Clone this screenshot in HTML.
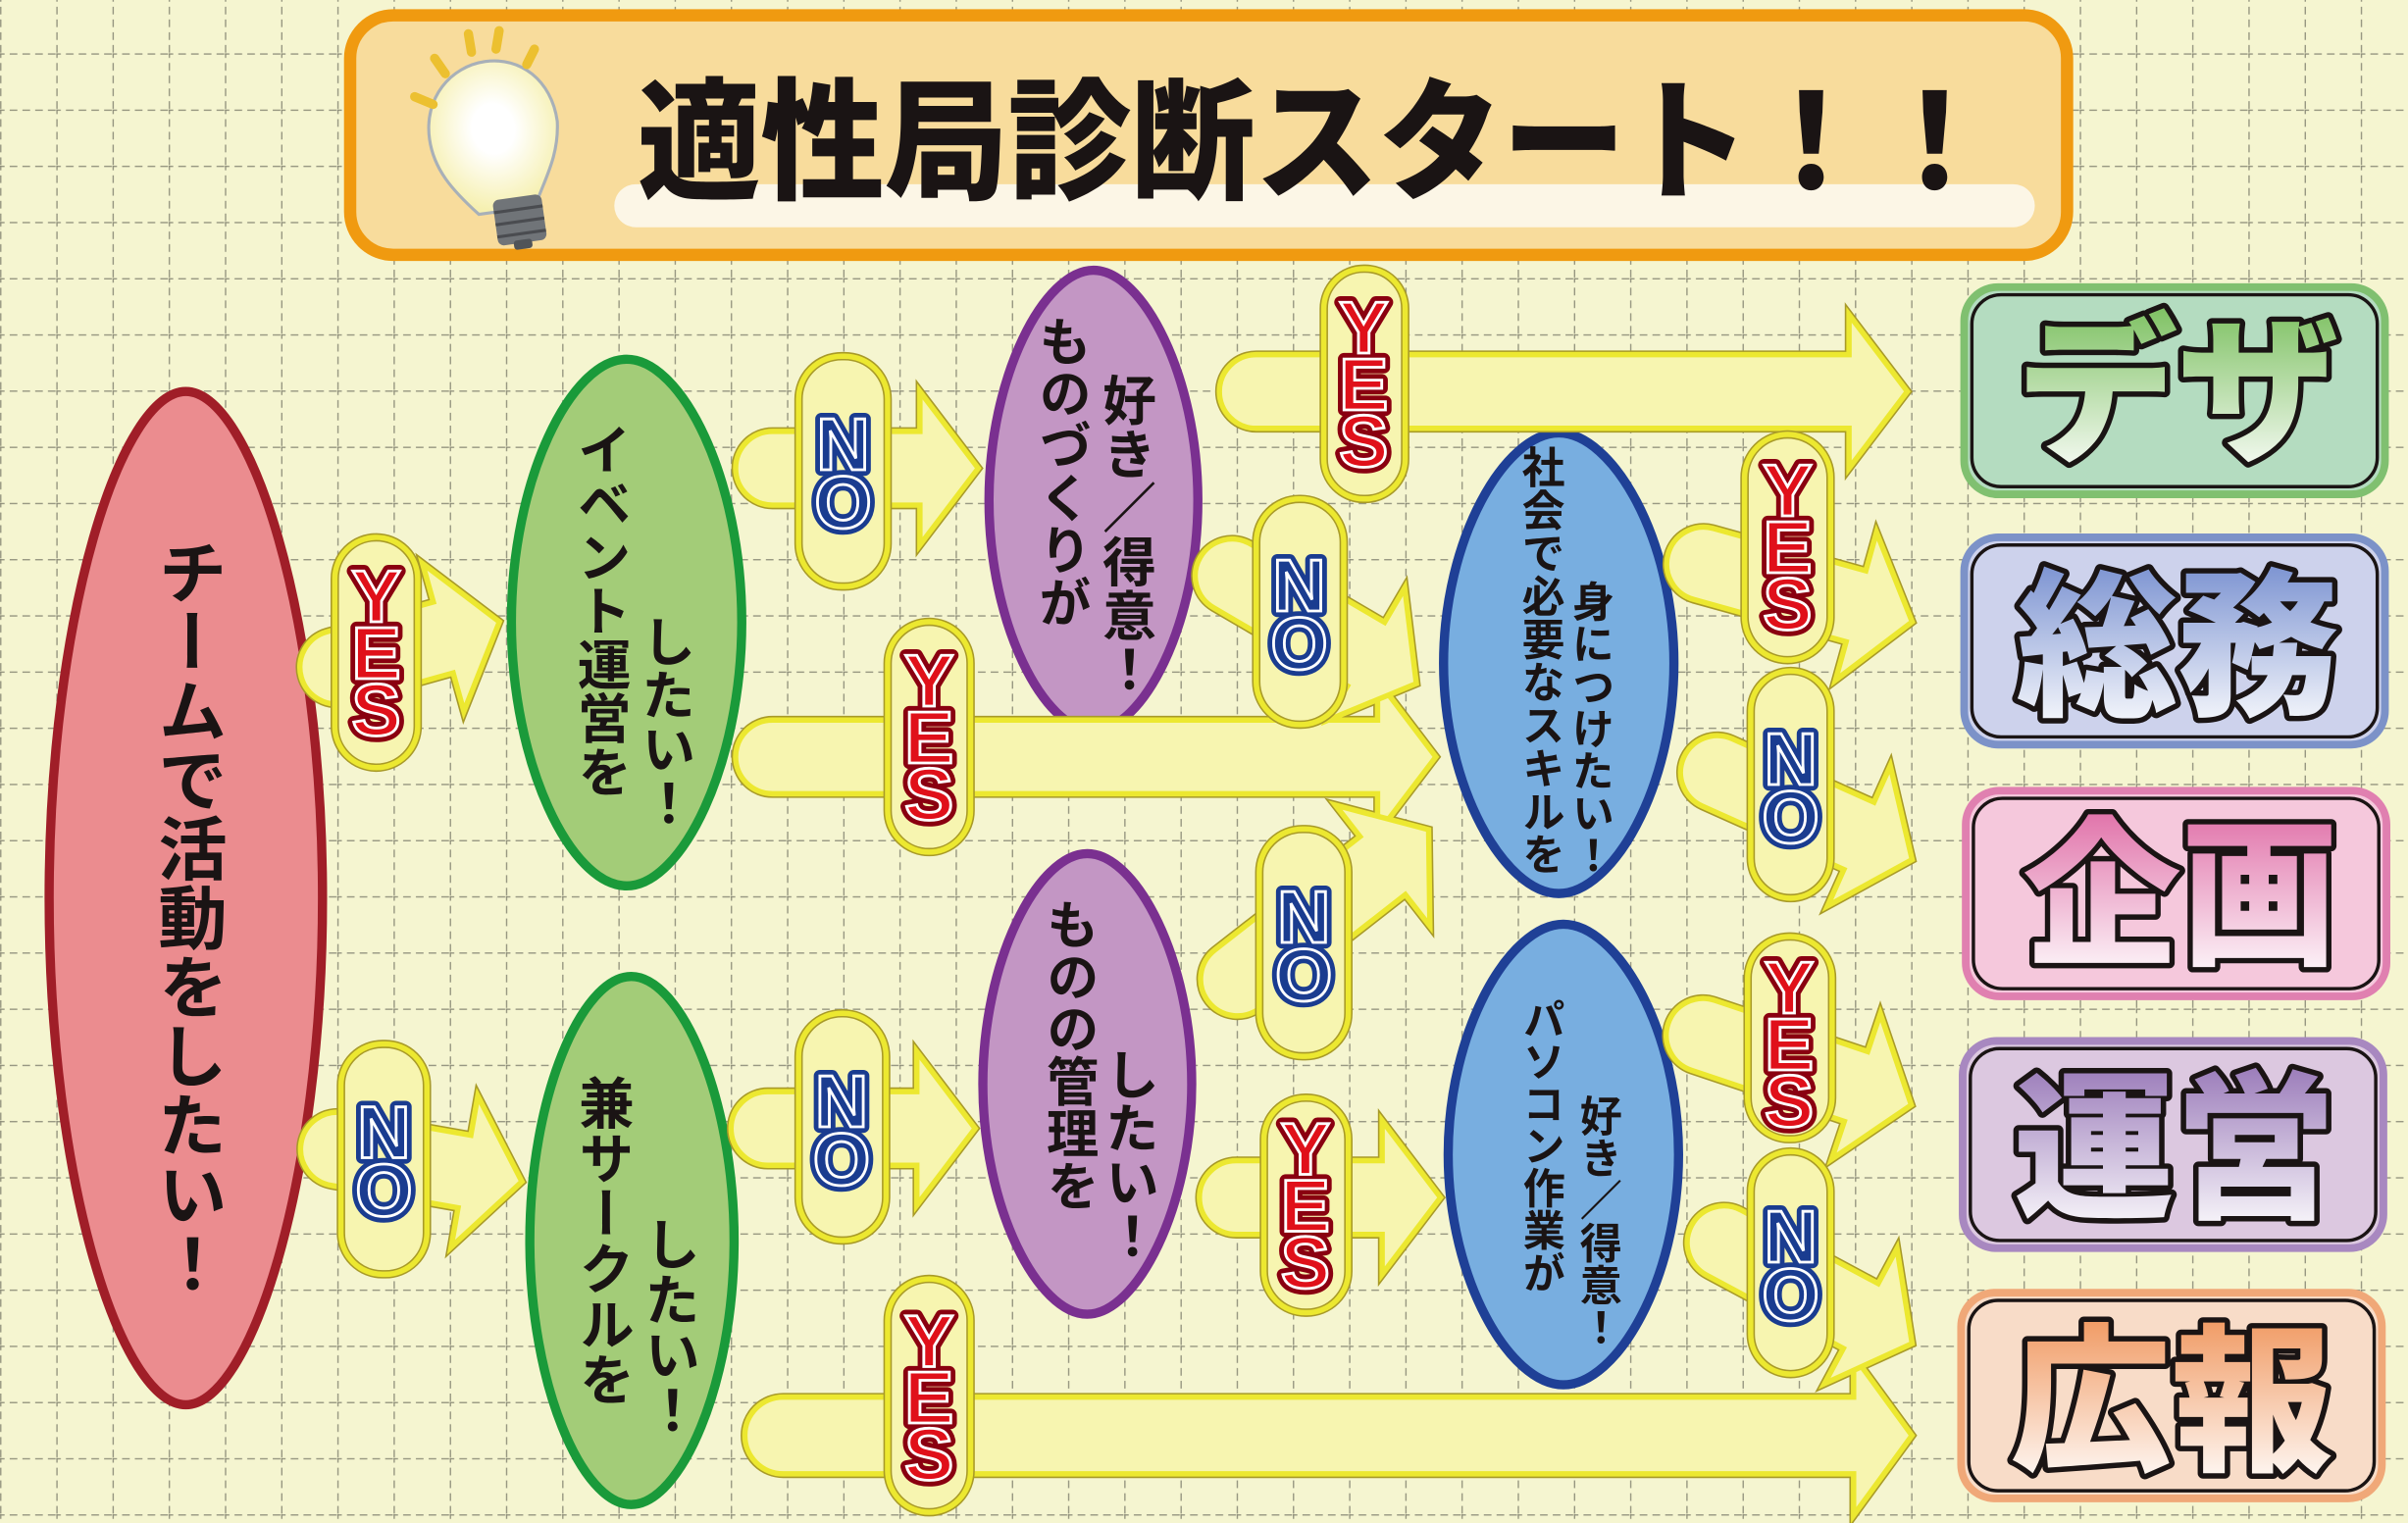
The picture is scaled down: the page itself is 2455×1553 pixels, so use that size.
<!DOCTYPE html>
<html><head><meta charset="utf-8">
<style>
html,body{margin:0;padding:0;}
body{width:2455px;height:1553px;overflow:hidden;background:#f5f5d0;}
#s{position:absolute;left:0;top:0;width:1568px;height:992px;transform:scale(1.56569,1.56552);transform-origin:0 0;}
.v{position:absolute;writing-mode:vertical-rl;font-family:"Liberation Sans","Noto Sans CJK JP",sans-serif;font-weight:bold;color:#1a1414;line-height:1;white-space:nowrap;}
</style></head><body>
<div id="s">
<svg width="1568" height="992" viewBox="0 0 1568 992" xmlns="http://www.w3.org/2000/svg" xmlns:xlink="http://www.w3.org/1999/xlink" style="position:absolute;left:0;top:0">
<defs>
<pattern id="g" x="0" y="-1.9" width="36.6" height="36.6" patternUnits="userSpaceOnUse">
<line x1="0.5" y1="-2" x2="0.5" y2="38" stroke="#8c8c78" stroke-width="0.8" stroke-dasharray="5 3.3"/>
<line x1="-2" y1="0.5" x2="38" y2="0.5" stroke="#8c8c78" stroke-width="0.8" stroke-dasharray="5 3.3"/>
</pattern>
<linearGradient id="gG" x1="0" y1="0" x2="0" y2="1"><stop offset="0" stop-color="#7cc060"/><stop offset="1" stop-color="#ffffff"/></linearGradient>
<linearGradient id="gB" x1="0" y1="0" x2="0" y2="1"><stop offset="0" stop-color="#7890d0"/><stop offset="1" stop-color="#ffffff"/></linearGradient>
<linearGradient id="gP" x1="0" y1="0" x2="0" y2="1"><stop offset="0" stop-color="#e070a8"/><stop offset="1" stop-color="#ffffff"/></linearGradient>
<linearGradient id="gV" x1="0" y1="0" x2="0" y2="1"><stop offset="0" stop-color="#9878b8"/><stop offset="1" stop-color="#ffffff"/></linearGradient>
<linearGradient id="gO" x1="0" y1="0" x2="0" y2="1"><stop offset="0" stop-color="#f09860"/><stop offset="1" stop-color="#ffffff"/></linearGradient>
<radialGradient id="bulb" cx="0.5" cy="0.45" r="0.55"><stop offset="0.3" stop-color="#ffffff"/><stop offset="1" stop-color="#f6f0b0"/></radialGradient>
<g id="ar">
<g transform="translate(200,440) rotate(-15.6)"><path d="M20,-24 H92 V-50 L130,0 L92,50 V24 H20 A24,24 0 0 1 20,-24 Z"/></g>
<g transform="translate(200,745) rotate(10)"><path d="M20,-24 H104 V-50 L142,0 L104,50 V24 H20 A24,24 0 0 1 20,-24 Z"/></g>
<g transform="translate(483,305)"><path d="M20,-24 H116 V-50 L154,0 L116,50 V24 H20 A24,24 0 0 1 20,-24 Z"/></g>
<g transform="translate(483,493)"><path d="M20,-24 H414 V-50 L452,0 L414,50 V24 H20 A24,24 0 0 1 20,-24 Z"/></g>
<g transform="translate(798,255)"><path d="M20,-24 H406 V-50 L444,0 L406,50 V24 H20 A24,24 0 0 1 20,-24 Z"/></g>
<g transform="translate(785,365) rotate(30.3)"><path d="M20,-24 H121 V-50 L159,0 L121,50 V24 H20 A24,24 0 0 1 20,-24 Z"/></g>
<g transform="translate(790,650) rotate(-38)"><path d="M20,-24 H140 V-50 L178,0 L140,50 V24 H20 A24,24 0 0 1 20,-24 Z"/></g>
<g transform="translate(480,735)"><path d="M20,-24 H117 V-50 L155,0 L117,50 V24 H20 A24,24 0 0 1 20,-24 Z"/></g>
<g transform="translate(785,780)"><path d="M20,-24 H115 V-50 L153,0 L115,50 V24 H20 A24,24 0 0 1 20,-24 Z"/></g>
<g transform="translate(490,935)"><path d="M20,-25 H717 V-52 L755,0 L717,52 V25 H20 A25,25 0 0 1 20,-25 Z"/></g>
<g transform="translate(1090,362) rotate(15.5)"><path d="M20,-24 H123 V-50 L161,0 L123,50 V24 H20 A24,24 0 0 1 20,-24 Z"/></g>
<g transform="translate(1100,495) rotate(24.1)"><path d="M20,-24 H121 V-50 L159,0 L121,50 V24 H20 A24,24 0 0 1 20,-24 Z"/></g>
<g transform="translate(1090,668) rotate(18.5)"><path d="M20,-24 H125 V-50 L163,0 L125,50 V24 H20 A24,24 0 0 1 20,-24 Z"/></g>
<g transform="translate(1105,800) rotate(28.2)"><path d="M20,-24 H121 V-50 L159,0 L121,50 V24 H20 A24,24 0 0 1 20,-24 Z"/></g>
</g>
</defs>
<rect width="1568" height="992" fill="#f5f5d0"/>
<rect width="1568" height="992" fill="url(#g)"/>

<rect x="228" y="10" width="1118" height="156" rx="28" fill="#f8dc9c" stroke="#f09a10" stroke-width="8"/>
<rect x="400" y="120" width="925" height="28" rx="14" fill="#fcf6e6"/>
<text x="415" y="123" font-family="Liberation Sans,Noto Sans CJK JP,sans-serif" font-weight="900" font-size="86" fill="#1a1414" textLength="885" lengthAdjust="spacingAndGlyphs">適性局診断スタート！！</text>
<g>
<path d="M315,128 C300,110 290,95 290,75 C290,48 310,30 333,30 C356,30 374,48 374,75 C372,98 360,112 352,128 Z" transform="translate(-10,10) rotate(-8 330 80)" fill="url(#bulb)" stroke="#a8b0b8" stroke-width="2"/>
<g transform="rotate(-8 340 140)">
<rect x="322" y="128" width="32" height="30" rx="4" fill="#707478"/>
<line x1="322" y1="136" x2="354" y2="136" stroke="#4a4c50" stroke-width="2"/>
<line x1="322" y1="144" x2="354" y2="144" stroke="#4a4c50" stroke-width="2"/>
<line x1="322" y1="152" x2="354" y2="152" stroke="#4a4c50" stroke-width="2"/>
<rect x="332" y="156" width="12" height="6" rx="2" fill="#505458"/>
</g>
<g stroke="#ecc030" stroke-width="6" stroke-linecap="round">
<line x1="270" y1="63" x2="282" y2="68"/><line x1="283" y1="38" x2="290" y2="48"/><line x1="305" y1="22" x2="307" y2="34"/><line x1="325" y1="20" x2="323" y2="32"/><line x1="348" y1="32" x2="343" y2="42"/>
</g>
</g>

<path d="M121,255 C163,255 210,400 210,585 C210,770 163,915 121,915 C79,915 32,770 32,585 C32,400 79,255 121,255 Z" fill="#eb8c8f" stroke="#a01e28" stroke-width="6"/>
<path d="M408,234 C444,234 483,312 483,405 C483,498 444,577 408,577 C372,577 333,498 333,405 C333,312 372,234 408,234 Z" fill="#a3cc78" stroke="#1a9a3a" stroke-width="6"/>
<path d="M411,636 C443,636 478,714 478,808 C478,902 443,980 411,980 C379,980 345,902 345,808 C345,714 379,636 411,636 Z" fill="#a3cc78" stroke="#1a9a3a" stroke-width="6"/>
<path d="M712,176 C744,176 780,245 780,326 C780,407 744,476 712,476 C680,476 644,407 644,326 C644,245 680,176 712,176 Z" fill="#c396c4" stroke="#7a3090" stroke-width="6"/>
<path d="M708,556 C740,556 776,625 776,706 C776,787 740,856 708,856 C676,856 640,787 640,706 C640,625 676,556 708,556 Z" fill="#c396c4" stroke="#7a3090" stroke-width="6"/>
<path d="M1015,282 C1050,282 1090,351 1090,432 C1090,513 1050,582 1015,582 C980,582 940,513 940,432 C940,351 980,282 1015,282 Z" fill="#78aee0" stroke="#1f4096" stroke-width="6"/>
<path d="M1018,602 C1053,602 1093,671 1093,752 C1093,833 1053,902 1018,902 C983,902 943,833 943,752 C943,671 983,602 1018,602 Z" fill="#78aee0" stroke="#1f4096" stroke-width="6"/>

<use href="#ar" xlink:href="#ar" fill="#f7f5b0" stroke="#a89a28" stroke-width="5.5"/>
<use href="#ar" xlink:href="#ar" fill="#f7f5b0" stroke="#ece830" stroke-width="3.5"/>

<g fill="#f7f5b0" stroke="#a89a28" stroke-width="5.5">
<rect x="218" y="350" width="54" height="150" rx="27"/>
<rect x="222" y="680" width="56" height="150" rx="27"/>
<rect x="520" y="232" width="58" height="150" rx="28"/>
<rect x="578" y="405" width="54" height="150" rx="27"/>
<rect x="862" y="175" width="53" height="150" rx="26"/>
<rect x="818" y="325" width="57" height="147" rx="28"/>
<rect x="820" y="540" width="58" height="148" rx="28"/>
<rect x="520" y="660" width="57" height="148" rx="28"/>
<rect x="823" y="715" width="55" height="140" rx="27"/>
<rect x="578" y="833" width="54" height="152" rx="27"/>
<rect x="1136" y="283" width="56" height="147" rx="28"/>
<rect x="1140" y="437" width="52" height="148" rx="26"/>
<rect x="1138" y="610" width="55" height="132" rx="27"/>
<rect x="1140" y="750" width="52" height="145" rx="26"/>
</g>
<g fill="none" stroke="#ece830" stroke-width="3.5">
<rect x="218" y="350" width="54" height="150" rx="27"/>
<rect x="222" y="680" width="56" height="150" rx="27"/>
<rect x="520" y="232" width="58" height="150" rx="28"/>
<rect x="578" y="405" width="54" height="150" rx="27"/>
<rect x="862" y="175" width="53" height="150" rx="26"/>
<rect x="818" y="325" width="57" height="147" rx="28"/>
<rect x="820" y="540" width="58" height="148" rx="28"/>
<rect x="520" y="660" width="57" height="148" rx="28"/>
<rect x="823" y="715" width="55" height="140" rx="27"/>
<rect x="578" y="833" width="54" height="152" rx="27"/>
<rect x="1136" y="283" width="56" height="147" rx="28"/>
<rect x="1140" y="437" width="52" height="148" rx="26"/>
<rect x="1138" y="610" width="55" height="132" rx="27"/>
<rect x="1140" y="750" width="52" height="145" rx="26"/>
</g>

<g font-family="Liberation Sans,sans-serif" font-weight="bold" font-size="48" text-anchor="middle">
<g stroke-width="8" stroke-linejoin="round">
<g fill="#e0101a" stroke="#8a0010">
<text x="245" y="405">Y</text><text x="245" y="442">E</text><text x="245" y="479">S</text>
<text x="605" y="460">Y</text><text x="605" y="497">E</text><text x="605" y="534">S</text>
<text x="888" y="230">Y</text><text x="888" y="267">E</text><text x="888" y="304">S</text>
<text x="850" y="765">Y</text><text x="850" y="802">E</text><text x="850" y="839">S</text>
<text x="605" y="890">Y</text><text x="605" y="927">E</text><text x="605" y="964">S</text>
<text x="1164" y="336">Y</text><text x="1164" y="373">E</text><text x="1164" y="410">S</text>
<text x="1165" y="660">Y</text><text x="1165" y="697">E</text><text x="1165" y="734">S</text>
</g>
<g fill="#1a3c90" stroke="#1a3c90">
<text x="250" y="754">N</text><text x="250" y="792">O</text>
<text x="549" y="306">N</text><text x="549" y="344">O</text>
<text x="846" y="398">N</text><text x="846" y="436">O</text>
<text x="849" y="614">N</text><text x="849" y="652">O</text>
<text x="548" y="734">N</text><text x="548" y="772">O</text>
<text x="1166" y="511">N</text><text x="1166" y="549">O</text>
<text x="1166" y="822">N</text><text x="1166" y="860">O</text>
</g>
</g>
<g stroke="#ffffff" stroke-width="1.8">
<g fill="#e0101a">
<text x="245" y="405">Y</text><text x="245" y="442">E</text><text x="245" y="479">S</text>
<text x="605" y="460">Y</text><text x="605" y="497">E</text><text x="605" y="534">S</text>
<text x="888" y="230">Y</text><text x="888" y="267">E</text><text x="888" y="304">S</text>
<text x="850" y="765">Y</text><text x="850" y="802">E</text><text x="850" y="839">S</text>
<text x="605" y="890">Y</text><text x="605" y="927">E</text><text x="605" y="964">S</text>
<text x="1164" y="336">Y</text><text x="1164" y="373">E</text><text x="1164" y="410">S</text>
<text x="1165" y="660">Y</text><text x="1165" y="697">E</text><text x="1165" y="734">S</text>
</g>
<g fill="#1a3c90">
<text x="250" y="754">N</text><text x="250" y="792">O</text>
<text x="549" y="306">N</text><text x="549" y="344">O</text>
<text x="846" y="398">N</text><text x="846" y="436">O</text>
<text x="849" y="614">N</text><text x="849" y="652">O</text>
<text x="548" y="734">N</text><text x="548" y="772">O</text>
<text x="1166" y="511">N</text><text x="1166" y="549">O</text>
<text x="1166" y="822">N</text><text x="1166" y="860">O</text>
</g>
</g>
</g>

<g stroke-width="5">
<rect x="1279" y="187" width="274" height="135" rx="22" fill="#b4dcc0" stroke="#80c070"/>
<rect x="1279" y="350" width="274" height="135" rx="22" fill="#cdd2ec" stroke="#7c92c8"/>
<rect x="1280" y="515" width="274" height="134" rx="22" fill="#f5c8dc" stroke="#e080b0"/>
<rect x="1278" y="678" width="274" height="135" rx="22" fill="#dcc8e0" stroke="#a888c0"/>
<rect x="1277" y="842" width="274" height="134" rx="22" fill="#f8dcc8" stroke="#f0a878"/>
</g>
<g fill="none" stroke="#1a1414" stroke-width="2.2">
<rect x="1284" y="192" width="264" height="125" rx="19"/>
<rect x="1284" y="355" width="264" height="125" rx="19"/>
<rect x="1285" y="520" width="264" height="124" rx="19"/>
<rect x="1283" y="683" width="264" height="125" rx="19"/>
<rect x="1282" y="847" width="264" height="124" rx="19"/>
</g>
<g font-family="Liberation Sans,Noto Sans CJK JP,sans-serif" font-weight="900" font-size="104" text-anchor="middle" stroke="#1a1414" stroke-width="7" stroke-linejoin="round" paint-order="stroke">
<text x="1418" y="292" fill="url(#gG)" textLength="210" lengthAdjust="spacingAndGlyphs">デザ</text>
<text x="1418" y="458" fill="url(#gB)" textLength="210" lengthAdjust="spacingAndGlyphs">総務</text>
<text x="1420" y="620" fill="url(#gP)" textLength="205" lengthAdjust="spacingAndGlyphs">企画</text>
<text x="1416" y="785" fill="url(#gV)" textLength="210" lengthAdjust="spacingAndGlyphs">運営</text>
<text x="1414" y="950" fill="url(#gO)" textLength="210" lengthAdjust="spacingAndGlyphs">広報</text>
</g>
</svg>

<div class="v" style="left:99px;top:350px;font-size:45px;">チームで活動をしたい！</div>
<div class="v" style="left:373px;top:275px;font-size:35px;">イベント運営を</div>
<div class="v" style="left:415px;top:400px;font-size:35px;">したい！</div>
<div class="v" style="left:374px;top:700px;font-size:36px;">兼サークルを</div>
<div class="v" style="left:417px;top:792px;font-size:36px;">したい！</div>
<div class="v" style="left:673px;top:205px;font-size:34px;">ものづくりが</div>
<div class="v" style="left:715px;top:243px;font-size:35px;">好き／得意！</div>
<div class="v" style="left:678px;top:585px;font-size:34px;">ものの管理を</div>
<div class="v" style="left:717px;top:682px;font-size:35px;">したい！</div>
<div class="v" style="left:989px;top:290px;font-size:28px;">社会で必要なスキルを</div>
<div class="v" style="left:1021px;top:378px;font-size:27.5px;">身につけたい！</div>
<div class="v" style="left:989px;top:650px;font-size:27.5px;">パソコン作業が</div>
<div class="v" style="left:1026px;top:713px;font-size:27.5px;">好き／得意！</div>
</div>
</body></html>
